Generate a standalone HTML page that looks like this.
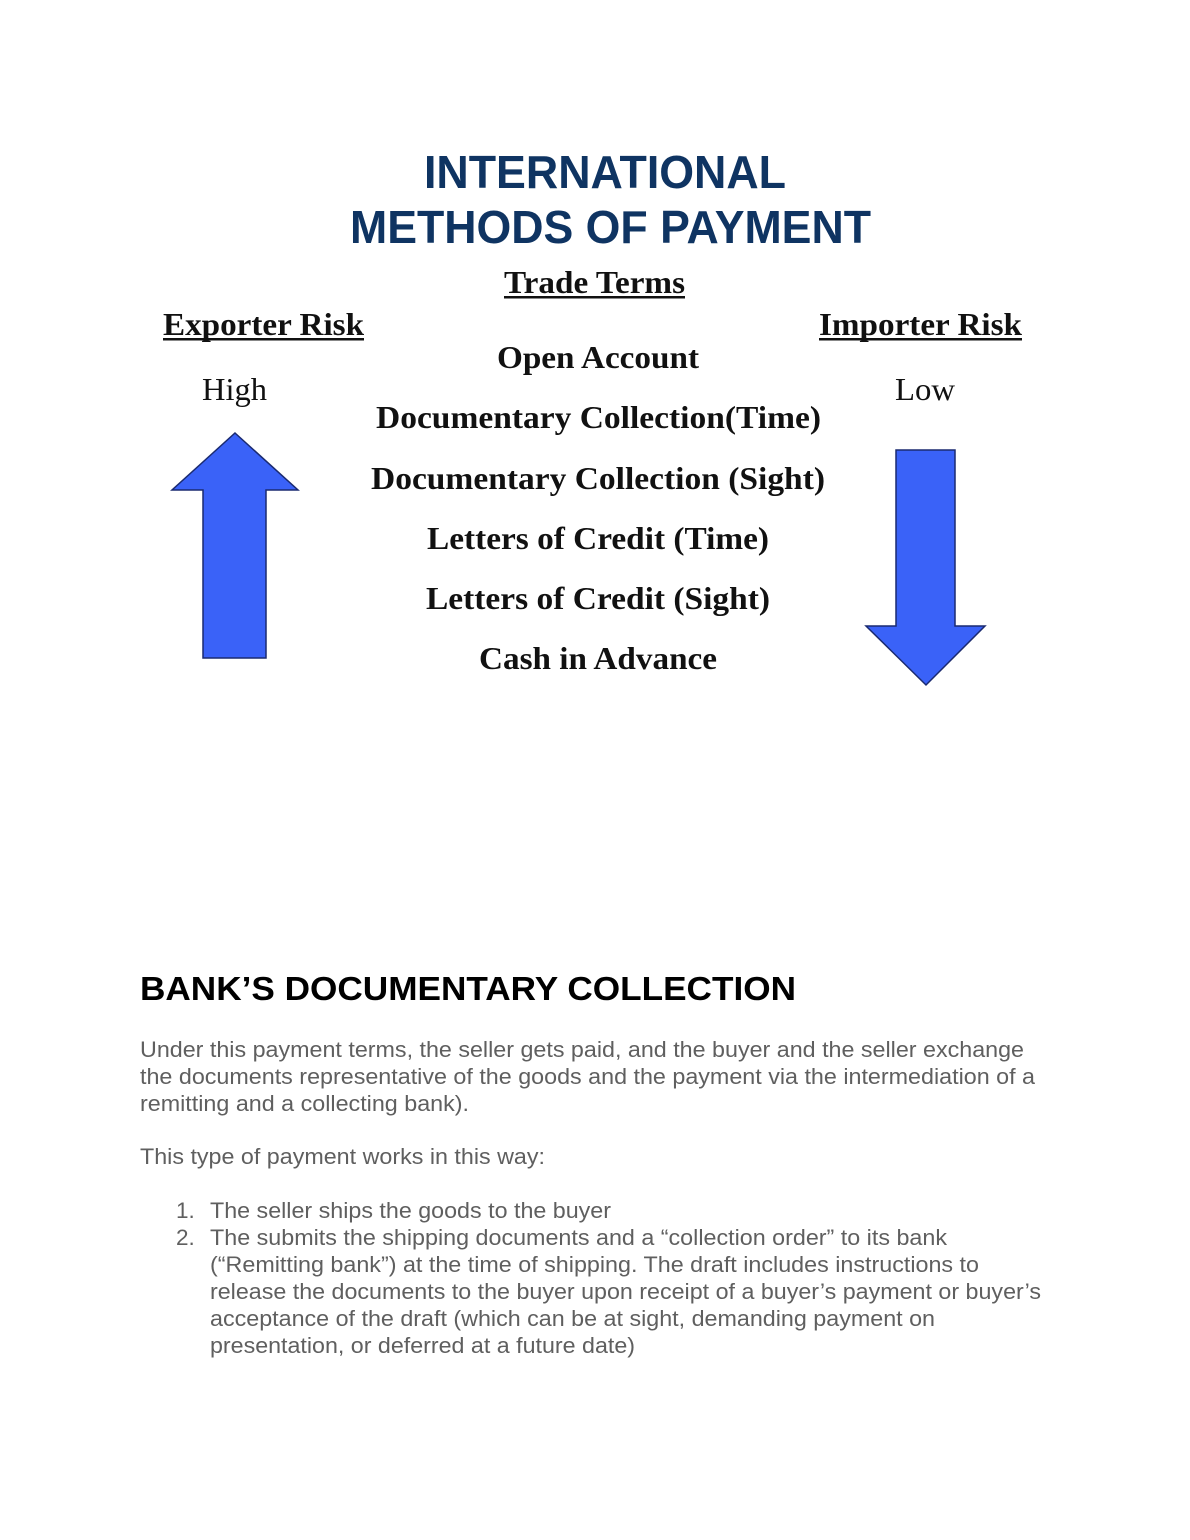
<!DOCTYPE html>
<html><head><meta charset="utf-8"><style>
html,body{margin:0;padding:0;background:#fff;}
svg{display:block;}
</style></head><body>
<svg width="1190" height="1540" viewBox="0 0 1190 1540" xmlns="http://www.w3.org/2000/svg">
<rect width="1190" height="1540" fill="#fff"/>
<g font-family="Liberation Sans, sans-serif" font-weight="bold" fill="#0f3462" font-size="46">
<text x="424" y="188" textLength="362" lengthAdjust="spacingAndGlyphs">INTERNATIONAL</text>
<text x="350" y="243" textLength="521" lengthAdjust="spacingAndGlyphs">METHODS OF PAYMENT</text>
</g>
<g font-family="Liberation Serif, serif" font-weight="bold" fill="#111" font-size="32">
<text x="504" y="293" textLength="181" lengthAdjust="spacingAndGlyphs">Trade Terms</text>
<rect x="504" y="296" width="181" height="2.5"/>
<text x="163" y="335" textLength="201" lengthAdjust="spacingAndGlyphs">Exporter Risk</text>
<rect x="163" y="338" width="201" height="2.5"/>
<text x="819" y="335" textLength="203" lengthAdjust="spacingAndGlyphs">Importer Risk</text>
<rect x="819" y="338" width="203" height="2.5"/>
<text x="497" y="368" textLength="202" lengthAdjust="spacingAndGlyphs">Open Account</text>
<text x="376" y="428" textLength="445" lengthAdjust="spacingAndGlyphs">Documentary Collection(Time)</text>
<text x="371" y="489" textLength="454" lengthAdjust="spacingAndGlyphs">Documentary Collection (Sight)</text>
<text x="427" y="549" textLength="342" lengthAdjust="spacingAndGlyphs">Letters of Credit (Time)</text>
<text x="426" y="609" textLength="344" lengthAdjust="spacingAndGlyphs">Letters of Credit (Sight)</text>
<text x="479" y="669" textLength="238" lengthAdjust="spacingAndGlyphs">Cash in Advance</text>
</g>
<g font-family="Liberation Serif, serif" fill="#111" font-size="32">
<text x="202" y="400" textLength="65" lengthAdjust="spacingAndGlyphs">High</text>
<text x="895" y="400" textLength="60" lengthAdjust="spacingAndGlyphs">Low</text>
</g>
<polygon points="235,433 298,490 266,490 266,658 203,658 203,490 172,490" fill="#3a62f8" stroke="#1a2a70" stroke-width="1.5"/>
<polygon points="896,450 955,450 955,626 985,626 926,685 866,626 896,626" fill="#3a62f8" stroke="#1a2a70" stroke-width="1.5"/>
<text x="140" y="1000" font-family="Liberation Sans, sans-serif" font-weight="bold" font-size="33" fill="#000" textLength="656" lengthAdjust="spacingAndGlyphs">BANK’S DOCUMENTARY COLLECTION</text>
<g font-family="Liberation Sans, sans-serif" font-size="22.5" fill="#5f5f5f">
<text x="140" y="1057" textLength="884" lengthAdjust="spacingAndGlyphs">Under this payment terms, the seller gets paid, and the buyer and the seller exchange</text>
<text x="140" y="1084" textLength="895" lengthAdjust="spacingAndGlyphs">the documents representative of the goods and the payment via the intermediation of a</text>
<text x="140" y="1111" textLength="329" lengthAdjust="spacingAndGlyphs">remitting and a collecting bank).</text>
<text x="140" y="1164" textLength="405" lengthAdjust="spacingAndGlyphs">This type of payment works in this way:</text>
<text x="176" y="1218">1.</text>
<text x="210" y="1218" textLength="401" lengthAdjust="spacingAndGlyphs">The seller ships the goods to the buyer</text>
<text x="176" y="1245">2.</text>
<text x="210" y="1245" textLength="737" lengthAdjust="spacingAndGlyphs">The submits the shipping documents and a “collection order” to its bank</text>
<text x="210" y="1272" textLength="769" lengthAdjust="spacingAndGlyphs">(“Remitting bank”) at the time of shipping. The draft includes instructions to</text>
<text x="210" y="1299" textLength="831" lengthAdjust="spacingAndGlyphs">release the documents to the buyer upon receipt of a buyer’s payment or buyer’s</text>
<text x="210" y="1326" textLength="725" lengthAdjust="spacingAndGlyphs">acceptance of the draft (which can be at sight, demanding payment on</text>
<text x="210" y="1353" textLength="425" lengthAdjust="spacingAndGlyphs">presentation, or deferred at a future date)</text>
</g>
</svg>
</body></html>
